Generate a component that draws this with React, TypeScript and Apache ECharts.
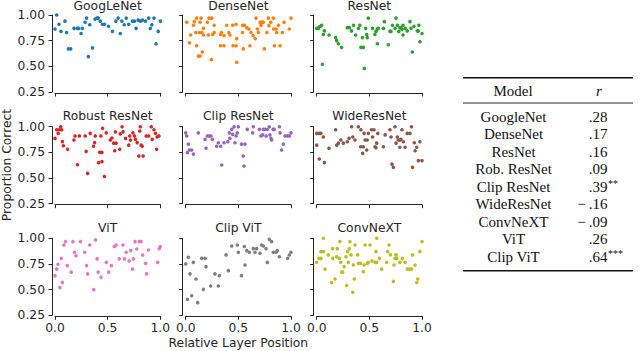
import React, { useEffect, useRef } from "react";
import * as echarts from "echarts";

const panelTitles = ["GoogLeNet", "DenseNet", "ResNet", "Robust ResNet", "Clip ResNet", "WideResNet", "ViT", "Clip ViT", "ConvNeXT"];
const panelColors = ["#1f77b4", "#ff7f0e", "#2ca02c", "#d62728", "#9467bd", "#8c564b", "#e377c2", "#7f7f7f", "#bcbd22"];

const googlenet = [[0,0.864],[0.016,1.0],[0.038,0.91],[0.057,0.84],[0.095,0.94],[0.11,0.83],[0.127,0.67],[0.149,0.67],[0.18,0.87],[0.21,0.87],[0.225,0.87],[0.248,0.82],[0.26,0.87],[0.286,0.93],[0.30,0.97],[0.317,0.595],[0.33,0.905],[0.356,0.68],[0.38,0.96],[0.397,0.97],[0.41,0.97],[0.43,0.94],[0.45,0.91],[0.47,0.91],[0.508,0.89],[0.546,0.84],[0.578,0.94],[0.60,0.97],[0.62,0.82],[0.635,0.94],[0.657,0.905],[0.676,0.97],[0.70,0.91],[0.736,0.94],[0.755,0.94],[0.77,0.87],[0.79,0.95],[0.81,0.94],[0.83,0.95],[0.86,0.94],[0.89,0.97],[0.905,0.87],[0.92,0.905],[0.94,0.97],[0.96,0.72],[0.98,0.84],[1.0,0.94]];
const densenet = [[0.01,0.93],[0.035,0.73],[0.047,0.805],[0.073,0.90],[0.082,0.935],[0.095,0.83],[0.104,0.97],[0.104,0.70],[0.12,0.60],[0.136,0.60],[0.13,0.83],[0.136,0.93],[0.146,0.97],[0.152,0.83],[0.158,0.64],[0.168,0.87],[0.168,0.805],[0.206,0.93],[0.215,0.805],[0.222,0.97],[0.247,0.97],[0.244,0.565],[0.256,0.81],[0.27,0.83],[0.27,0.90],[0.33,0.81],[0.34,0.83],[0.33,0.70],[0.364,0.70],[0.364,0.80],[0.39,0.90],[0.41,0.83],[0.42,0.805],[0.446,0.90],[0.45,0.70],[0.478,0.70],[0.478,0.91],[0.484,0.77],[0.484,0.54],[0.54,0.90],[0.557,0.90],[0.54,0.83],[0.547,0.67],[0.58,0.877],[0.60,0.864],[0.61,0.70],[0.62,0.83],[0.64,0.80],[0.66,0.77],[0.668,0.97],[0.68,0.864],[0.69,0.83],[0.706,0.93],[0.725,0.93],[0.737,0.93],[0.715,0.90],[0.747,0.67],[0.77,0.83],[0.785,0.97],[0.79,0.896],[0.807,0.93],[0.832,0.97],[0.835,0.864],[0.858,0.864],[0.842,0.70],[0.896,0.70],[0.88,0.90],[0.864,0.83],[0.918,0.83],[0.934,0.93],[0.984,0.864],[1.0,0.97]];
const resnet = [[0,0.87],[0.016,0.87],[0.025,0.886],[0.038,0.89],[0.047,0.90],[0.054,0.52],[0.063,0.81],[0.073,0.845],[0.117,0.805],[0.18,0.78],[0.19,0.75],[0.206,0.72],[0.237,0.685],[0.29,0.877],[0.31,0.877],[0.33,0.845],[0.35,0.90],[0.37,0.805],[0.396,0.87],[0.41,0.90],[0.42,0.685],[0.443,0.685],[0.434,0.78],[0.452,0.48],[0.465,0.87],[0.475,0.81],[0.48,0.78],[0.49,0.97],[0.53,0.87],[0.553,0.81],[0.563,0.84],[0.576,0.864],[0.576,0.72],[0.585,0.87],[0.633,0.87],[0.642,0.935],[0.68,0.71],[0.696,0.84],[0.706,0.84],[0.72,0.90],[0.744,0.87],[0.753,0.97],[0.766,0.90],[0.78,0.84],[0.79,0.877],[0.80,0.877],[0.81,0.86],[0.82,0.90],[0.84,0.87],[0.82,0.805],[0.86,0.845],[0.886,0.935],[0.896,0.87],[0.908,0.64],[0.924,0.89],[0.956,0.845],[0.965,0.845],[0.97,0.90],[0.98,0.74],[1.0,0.82]];
const robustResnet = [[0,0.886],[0.016,0.97],[0.03,0.935],[0.04,0.97],[0.064,0.97],[0.054,1.0],[0.07,0.855],[0.08,0.815],[0.12,0.78],[0.18,0.87],[0.19,0.91],[0.213,0.63],[0.232,0.91],[0.287,0.91],[0.296,0.76],[0.31,0.545],[0.334,0.935],[0.366,0.81],[0.376,0.845],[0.382,0.91],[0.414,0.65],[0.424,0.75],[0.446,0.75],[0.436,0.91],[0.446,0.66],[0.452,0.985],[0.47,0.515],[0.487,0.94],[0.525,0.87],[0.54,0.89],[0.557,0.84],[0.567,0.766],[0.573,0.95],[0.58,0.84],[0.615,0.78],[0.62,0.93],[0.637,1.0],[0.646,0.95],[0.67,0.886],[0.70,0.82],[0.717,0.87],[0.71,0.91],[0.74,0.94],[0.755,0.91],[0.764,0.877],[0.78,0.845],[0.796,0.714],[0.805,0.958],[0.81,1.0],[0.818,0.82],[0.828,0.81],[0.837,0.714],[0.866,0.91],[0.89,0.91],[0.914,1.0],[0.923,0.877],[0.94,0.97],[0.955,0.935],[0.965,0.78],[0.97,0.90],[0.987,0.91]];
const clipResnet = [[0,0.94],[0.01,0.91],[0.025,0.83],[0.016,0.747],[0.035,0.773],[0.057,0.773],[0.073,0.733],[0.12,0.94],[0.184,0.877],[0.193,0.79],[0.206,0.91],[0.225,0.91],[0.24,0.91],[0.253,0.877],[0.294,0.81],[0.31,0.844],[0.332,0.81],[0.342,0.627],[0.364,0.844],[0.40,0.854],[0.415,0.94],[0.42,0.886],[0.437,0.974],[0.446,0.925],[0.459,1.0],[0.468,0.844],[0.478,0.91],[0.49,0.94],[0.50,1.0],[0.53,0.83],[0.563,0.83],[0.547,0.714],[0.554,0.617],[0.585,0.974],[0.636,0.94],[0.642,1.0],[0.70,0.974],[0.715,0.91],[0.73,0.92],[0.737,0.974],[0.753,0.974],[0.763,0.91],[0.775,0.974],[0.794,1.0],[0.80,0.92],[0.81,0.886],[0.816,0.87],[0.83,0.974],[0.84,0.974],[0.89,1.0],[0.896,0.94],[0.91,0.773],[0.927,0.83],[0.943,0.91],[0.965,0.91],[0.984,0.91],[1.0,0.94]];
const wideResnet = [[0,0.82],[0,0.935],[0.022,0.935],[0.04,0.935],[0.025,0.685],[0.063,0.90],[0.073,0.65],[0.117,0.79],[0.18,0.97],[0.19,0.82],[0.206,0.84],[0.23,0.87],[0.253,0.84],[0.29,0.854],[0.307,0.886],[0.332,1.0],[0.342,0.90],[0.364,0.87],[0.396,1.0],[0.418,0.805],[0.443,0.805],[0.42,0.97],[0.437,0.74],[0.45,0.935],[0.46,0.87],[0.48,0.87],[0.475,0.773],[0.49,0.935],[0.52,0.97],[0.544,0.97],[0.53,0.90],[0.554,0.805],[0.57,0.84],[0.563,0.795],[0.58,0.935],[0.633,0.805],[0.65,0.92],[0.696,0.97],[0.706,0.90],[0.715,0.636],[0.728,0.604],[0.744,1.0],[0.753,0.84],[0.766,0.90],[0.775,0.87],[0.79,0.87],[0.80,0.877],[0.79,0.80],[0.84,0.80],[0.81,0.97],[0.823,0.854],[0.86,0.935],[0.886,0.935],[0.90,1.0],[0.91,0.604],[0.927,0.844],[0.934,0.766],[0.95,0.80],[0.965,0.67],[1.0,0.67],[0.98,0.854]];
const vit = [[0,0.636],[0.016,0.70],[0.028,0.747],[0.047,0.52],[0.06,0.805],[0.07,0.57],[0.085,0.935],[0.10,0.968],[0.116,0.734],[0.154,0.67],[0.17,0.968],[0.186,0.864],[0.20,0.83],[0.242,0.968],[0.283,0.864],[0.30,0.734],[0.31,0.653],[0.33,0.935],[0.368,0.50],[0.384,0.984],[0.40,0.80],[0.41,0.67],[0.437,0.62],[0.487,0.766],[0.51,0.67],[0.535,0.734],[0.563,0.92],[0.58,0.935],[0.61,0.80],[0.645,0.935],[0.66,0.80],[0.676,0.864],[0.704,0.78],[0.72,0.88],[0.736,0.70],[0.745,0.80],[0.76,0.968],[0.777,0.896],[0.80,0.968],[0.818,0.968],[0.833,0.837],[0.86,0.756],[0.87,0.653],[0.887,0.886],[0.975,0.766],[0.99,0.90],[1.0,0.92]];
const clipVit = [[0,0.75],[0.016,0.406],[0.025,0.815],[0.041,0.653],[0.057,0.44],[0.073,0.766],[0.098,0.604],[0.114,0.373],[0.152,0.805],[0.184,0.805],[0.168,0.503],[0.193,0.724],[0.237,0.536],[0.278,0.653],[0.31,0.536],[0.32,0.636],[0.383,0.838],[0.405,0.685],[0.437,0.925],[0.49,0.935],[0.50,0.864],[0.53,0.636],[0.557,0.92],[0.563,0.74],[0.58,0.88],[0.604,0.864],[0.642,0.90],[0.674,0.90],[0.658,0.864],[0.706,0.854],[0.72,0.935],[0.737,0.925],[0.763,0.90],[0.775,0.766],[0.794,0.99],[0.816,0.968],[0.832,0.864],[0.858,0.864],[0.87,0.88],[0.89,0.82],[0.968,0.805],[0.984,0.837],[1.0,0.864]];
const convnext = [[0,0.766],[0.022,0.805],[0.04,0.805],[0.04,0.87],[0.063,0.87],[0.063,1.0],[0.08,0.70],[0.11,0.838],[0.142,0.57],[0.152,0.805],[0.152,0.90],[0.174,0.604],[0.196,0.90],[0.19,0.82],[0.215,0.805],[0.22,0.968],[0.228,0.766],[0.237,0.67],[0.247,0.67],[0.26,0.724],[0.278,0.82],[0.285,0.54],[0.294,0.87],[0.30,0.766],[0.31,0.90],[0.316,0.968],[0.326,0.838],[0.342,0.474],[0.348,0.74],[0.357,0.604],[0.364,0.935],[0.39,0.838],[0.396,0.756],[0.418,0.756],[0.443,0.675],[0.45,0.74],[0.46,0.935],[0.48,0.756],[0.49,0.766],[0.506,0.935],[0.525,0.78],[0.554,0.766],[0.57,0.766],[0.563,0.87],[0.57,1.0],[0.595,0.805],[0.617,0.70],[0.664,0.766],[0.674,0.87],[0.687,0.935],[0.70,0.838],[0.728,0.58],[0.734,0.74],[0.744,0.805],[0.76,0.805],[0.753,0.838],[0.79,0.766],[0.813,0.805],[0.84,0.766],[0.86,0.70],[0.88,0.70],[0.90,0.70],[0.91,0.838],[0.934,0.74],[0.95,0.57],[0.96,0.604],[0.98,0.87],[1.0,0.968]];

const panelData = [googlenet, densenet, resnet, robustResnet, clipResnet, wideResnet, vit, clipVit, convnext];

const tableModels = ["GoogleNet", "DenseNet", "ResNet", "Rob. ResNet", "Clip ResNet", "WideResNet", "ConvNeXT", "ViT", "Clip ViT"];
const tableR = [".28", ".17", ".16", ".09", ".39", "\u2212\u2009.16", "\u2212\u2009.09", ".26", ".64"];
const tableSig = ["", "", "", "", "**", "", "", "", "***"];

export default function App() {
  const ref = useRef<HTMLDivElement>(null);
  useEffect(() => {
    const chart = echarts.init(ref.current!, null, { renderer: "svg" });
    const colX = [55, 185.7, 316.7];
    const rowY = [15, 126.7, 238.3];
    const titleY = [6.3, 116.3, 228.3];
    const W = 105.3;
    const H = 77;
    const ink = "#262626";
    const sans = '"DejaVu Sans"';
    const serif = '"Liberation Serif"';
    const grid: any[] = [];
    const xAxis: any[] = [];
    const yAxis: any[] = [];
    const series: any[] = [];
    const graphic: any[] = [];
    panelData.forEach((data, i) => {
      const c = i % 3;
      const r = Math.floor(i / 3);
      grid.push({ left: colX[c], top: rowY[r], width: W, height: H, containLabel: false });
      xAxis.push({
        gridIndex: i, type: "value", min: 0, max: 1, interval: 0.5, offset: 1,
        splitLine: { show: false },
        axisLine: { show: true, onZero: false, lineStyle: { color: ink, width: 1 } },
        axisTick: { show: true, length: 3.5, lineStyle: { color: ink, width: 1 } },
        axisLabel: { show: r === 2, margin: 6, color: ink, fontFamily: sans, fontSize: 12.3, formatter: (v: number) => v.toFixed(1) },
      });
      yAxis.push({
        gridIndex: i, type: "value", min: 0.25, max: 1, interval: 0.25, offset: 3,
        splitLine: { show: false },
        axisLine: { show: true, onZero: false, lineStyle: { color: ink, width: 1 } },
        axisTick: { show: true, length: 3.5, lineStyle: { color: ink, width: 1 } },
        axisLabel: { show: c === 0, margin: 7, color: ink, fontFamily: sans, fontSize: 12.3, formatter: (v: number) => v.toFixed(2) },
      });
      series.push({
        type: "scatter", xAxisIndex: i, yAxisIndex: i, data, symbolSize: 3.6, clip: false,
        itemStyle: { color: panelColors[i], opacity: 1 },
      });
      graphic.push({
        type: "text", x: colX[c] + W / 2, y: titleY[r],
        style: { text: panelTitles[i], align: "center", verticalAlign: "middle", fontFamily: sans, fontSize: 12.3, fill: ink },
      });
    });
    graphic.push({
      type: "text", x: 6.5, y: 165, rotation: Math.PI / 2,
      style: { text: "Proportion Correct", align: "center", verticalAlign: "middle", fontFamily: sans, fontSize: 12.3, fill: ink },
    });
    graphic.push({
      type: "text", x: colX[1] + W / 2, y: 343,
      style: { text: "Relative Layer Position", align: "center", verticalAlign: "middle", fontFamily: sans, fontSize: 12.3, fill: ink },
    });
    // table
    const tL = 463, tR = 633;
    graphic.push({ type: "line", shape: { x1: tL, y1: 77.8, x2: tR, y2: 77.8 }, style: { stroke: "#111", lineWidth: 1.5 } });
    graphic.push({ type: "line", shape: { x1: tL, y1: 103, x2: tR, y2: 103 }, style: { stroke: "#111", lineWidth: 0.9 } });
    graphic.push({ type: "line", shape: { x1: tL, y1: 270.8, x2: tR, y2: 270.8 }, style: { stroke: "#111", lineWidth: 1.5 } });
    graphic.push({ type: "text", x: 513, y: 91, style: { text: "Model", align: "center", verticalAlign: "middle", fontFamily: serif, fontSize: 15, fill: "#111" } });
    graphic.push({ type: "text", x: 599, y: 91, style: { text: "r", align: "center", verticalAlign: "middle", fontFamily: serif, fontStyle: "italic", fontSize: 15, fill: "#111" } });
    const firstRow = 116.5;
    const step = 17.55;
    tableModels.forEach((m, k) => {
      const y = firstRow + k * step;
      graphic.push({ type: "text", x: 513.5, y, style: { text: m, align: "center", verticalAlign: "middle", fontFamily: serif, fontSize: 15, fill: "#111" } });
      graphic.push({ type: "text", x: 607.5, y, style: { text: tableR[k], align: "right", verticalAlign: "middle", fontFamily: serif, fontSize: 15, fill: "#111" } });
      if (tableSig[k]) {
        graphic.push({ type: "text", x: 608, y: y - 3, style: { text: tableSig[k], align: "left", verticalAlign: "middle", fontFamily: serif, fontSize: 10, fill: "#111" } });
      }
    });
    chart.setOption({ animation: false, backgroundColor: "#fff", grid, xAxis, yAxis, series, graphic });
    return () => chart.dispose();
  }, []);
  return <div ref={ref} style={{ position: "absolute", left: 0, top: 0, width: 640, height: 351, background: "#fff" }} />;
}
